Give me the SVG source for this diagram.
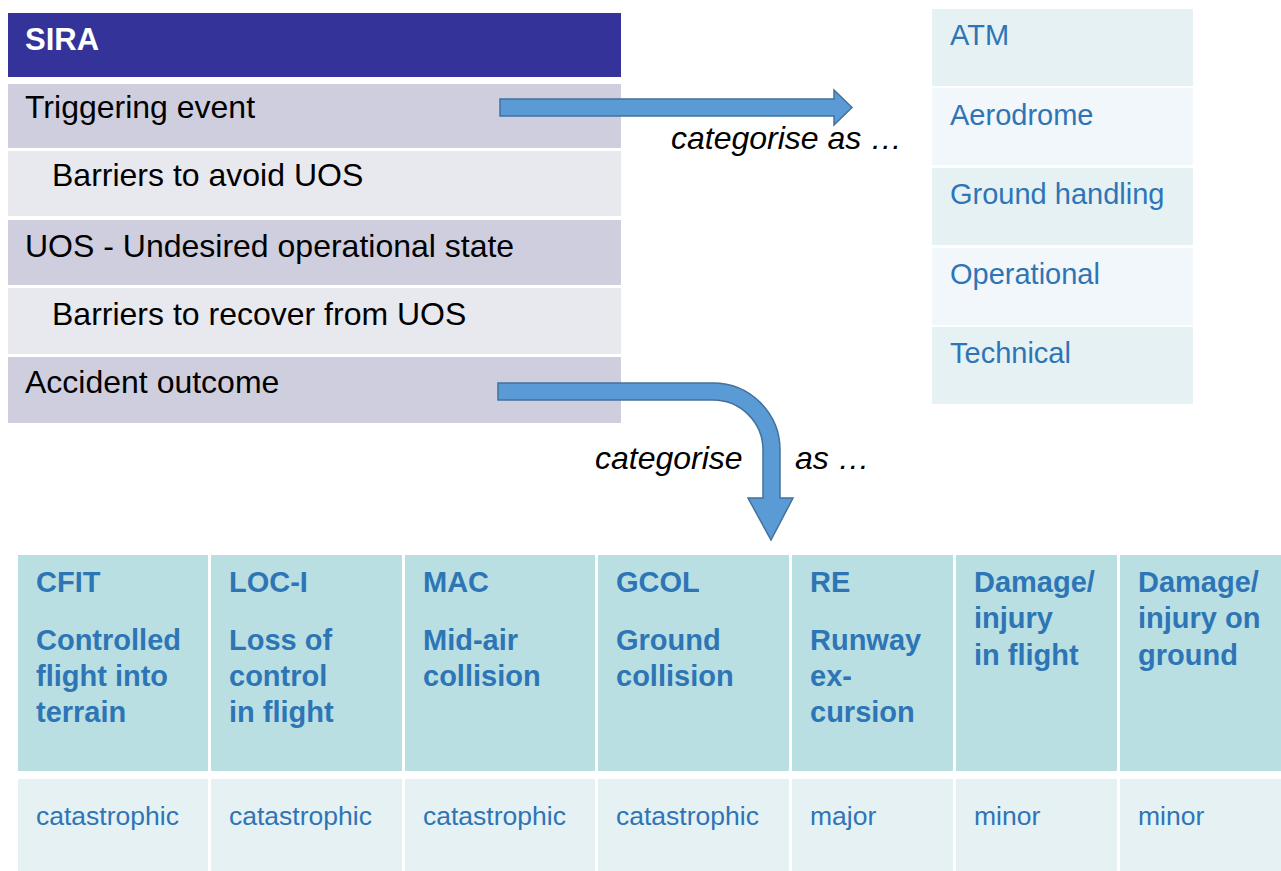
<svg xmlns="http://www.w3.org/2000/svg" width="1281" height="871" viewBox="0 0 1281 871">
<style>
text{font-family:"Liberation Sans",Arial,sans-serif}
.lt{font-size:32px;fill:#000}
.hd{font-size:31px;font-weight:bold;fill:#fff}
.rt{font-size:29px;fill:#2E75B6}
.ch{font-size:29px;font-weight:bold;fill:#2E75B6}
.cv{font-size:26.5px;fill:#2E75B6}
.cap{font-size:32px;font-style:italic;fill:#000}
.dk{fill:#CECEDF}
.lg{fill:#E8E8EF}
.r1{fill:#E6F1F4}
.r2{fill:#F1F7FA}
.hc{fill:#B9DFE2}
.vc{fill:#E6F1F4}
.arr{fill:#5B9BD5;stroke:#41719C;stroke-width:1.5}
</style>
<g id="sira">
<rect x="8" y="13" width="613" height="64" fill="#333399"/>
<text class="hd" x="25" y="50">SIRA</text>
</g>
<g id="triggering-event"><rect class="dk" x="8" y="84" width="613" height="64"/><text class="lt" x="25" y="118">Triggering event</text></g>
<g id="barriers-avoid"><rect class="lg" x="8" y="151" width="613" height="65"/><text class="lt" x="52" y="186">Barriers to avoid UOS</text></g>
<g id="uos"><rect class="dk" x="8" y="220" width="613" height="65"/><text class="lt" x="25" y="257">UOS - Undesired operational state</text></g>
<g id="barriers-recover"><rect class="lg" x="8" y="288" width="613" height="66"/><text class="lt" x="52" y="325">Barriers to recover from UOS</text></g>
<g id="accident-outcome"><rect class="dk" x="8" y="357" width="613" height="66"/><text class="lt" x="25" y="393">Accident outcome</text></g>

<g id="atm"><rect class="r1" x="932" y="9" width="261" height="77"/><text class="rt" x="950" y="45">ATM</text></g>
<g id="aerodrome"><rect class="r2" x="932" y="88" width="261" height="77"/><text class="rt" x="950" y="125">Aerodrome</text></g>
<g id="ground-handling"><rect class="r1" x="932" y="168" width="261" height="77"/><text class="rt" x="950" y="204">Ground handling</text></g>
<g id="operational"><rect class="r2" x="932" y="248" width="261" height="77"/><text class="rt" x="950" y="284">Operational</text></g>
<g id="technical"><rect class="r1" x="932" y="327" width="261" height="77"/><text class="rt" x="950" y="363">Technical</text></g>

<g id="cfit">
<rect class="hc" x="18" y="555" width="190" height="216"/><rect class="vc" x="18" y="779" width="190" height="92"/>
<text class="ch"><tspan x="36" y="592">CFIT</tspan><tspan x="36" y="650">Controlled</tspan><tspan x="36" y="686">flight into</tspan><tspan x="36" y="722">terrain</tspan></text>
<text class="cv" x="36" y="825">catastrophic</text>
</g>
<g id="loc-i">
<rect class="hc" x="211" y="555" width="191" height="216"/><rect class="vc" x="211" y="779" width="191" height="92"/>
<text class="ch"><tspan x="229" y="592">LOC-I</tspan><tspan x="229" y="650">Loss of</tspan><tspan x="229" y="686">control</tspan><tspan x="229" y="722">in flight</tspan></text>
<text class="cv" x="229" y="825">catastrophic</text>
</g>
<g id="mac">
<rect class="hc" x="405" y="555" width="190" height="216"/><rect class="vc" x="405" y="779" width="190" height="92"/>
<text class="ch"><tspan x="423" y="592">MAC</tspan><tspan x="423" y="650">Mid-air</tspan><tspan x="423" y="686">collision</tspan></text>
<text class="cv" x="423" y="825">catastrophic</text>
</g>
<g id="gcol">
<rect class="hc" x="598" y="555" width="191" height="216"/><rect class="vc" x="598" y="779" width="191" height="92"/>
<text class="ch"><tspan x="616" y="592">GCOL</tspan><tspan x="616" y="650">Ground</tspan><tspan x="616" y="686">collision</tspan></text>
<text class="cv" x="616" y="825">catastrophic</text>
</g>
<g id="re">
<rect class="hc" x="792" y="555" width="161" height="216"/><rect class="vc" x="792" y="779" width="161" height="92"/>
<text class="ch"><tspan x="810" y="592">RE</tspan><tspan x="810" y="650">Runway</tspan><tspan x="810" y="686">ex-</tspan><tspan x="810" y="722">cursion</tspan></text>
<text class="cv" x="810" y="825">major</text>
</g>
<g id="damage-flight">
<rect class="hc" x="956" y="555" width="161" height="216"/><rect class="vc" x="956" y="779" width="161" height="92"/>
<text class="ch"><tspan x="974" y="592">Damage/</tspan><tspan x="974" y="628">injury</tspan><tspan x="974" y="665">in flight</tspan></text>
<text class="cv" x="974" y="825">minor</text>
</g>
<g id="damage-ground">
<rect class="hc" x="1120" y="555" width="161" height="216"/><rect class="vc" x="1120" y="779" width="161" height="92"/>
<text class="ch"><tspan x="1138" y="592">Damage/</tspan><tspan x="1138" y="628">injury on</tspan><tspan x="1138" y="665">ground</tspan></text>
<text class="cv" x="1138" y="825">minor</text>
</g>

<g id="connectors">
<path class="arr" d="M500 99 H834 V90 L852 107.5 L834 125 V116 H500 Z"/>
<text class="cap" x="671" y="149">categorise as …</text>
<path class="arr" d="M498 383 H713 A67 67 0 0 1 780 450 V498 H793 L771 540 L748 498 H763 V450 A50 50 0 0 0 713 400 H498 Z"/>
<text class="cap" x="595" y="469">categorise</text>
<text class="cap" x="795" y="469">as …</text>
</g>
</svg>
